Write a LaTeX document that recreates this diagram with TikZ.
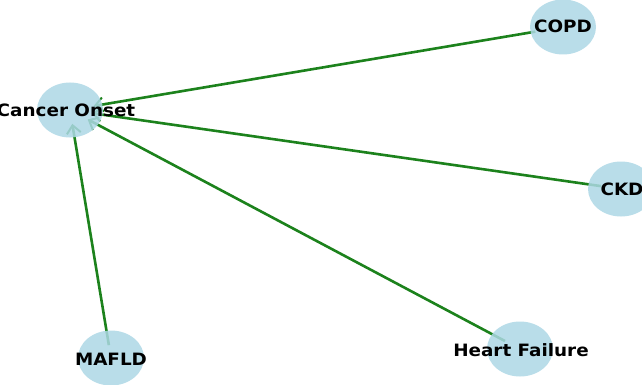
\documentclass[tikz,border=0pt]{standalone}
\usepackage{fontspec}
\setmainfont{DejaVu Sans}
\usetikzlibrary{calc,arrows.meta,shapes.geometric}
\definecolor{nodeblue}{RGB}{173,216,230}
\definecolor{edgegreen}{RGB}{28,130,28}
\pgfdeclarelayer{bg}
\pgfsetlayers{bg,main}
\newcommand{\lbltxt}[1]{\scalebox{1.08}[1]{\fontsize{17}{19}\selectfont\bfseries #1}}
\tikzset{
  nd/.style={ellipse, fill=nodeblue, fill opacity=0.85, text opacity=1,
    minimum width=66pt, minimum height=55pt, inner sep=0pt, text=black},
  edg/.style={draw=edgegreen, line width=2.6pt,
    -{Straight Barb[length=8pt,width=14pt,line width=2pt]}}
}
\begin{document}
\begin{tikzpicture}[x=1pt,y=-1pt]
\useasboundingbox (0,0) rectangle (642,385);
\clip (0,0) rectangle (642,385);
\node[nd] (canc) at (70,110) {};
\node[nd] (copd) at (563,27) {};
\node[nd] (ckd) at (621,189) {};
\node[nd] (mafld) at (111,358) {};
\node[nd] (hf) at (520,349) {};
\node (tcanc) at (66,110) {\lbltxt{Cancer Onset}};
\node (tcopd) at (563,26) {\lbltxt{COPD}};
\node (tckd) at (622,189) {\lbltxt{CKD}};
\node (tmafld) at (111,359) {\lbltxt{MAFLD}};
\node (thf) at (521,350) {\lbltxt{Heart Failure}};
\begin{pgfonlayer}{bg}
\fill[white] (0,0) rectangle (642,385);
\draw[edg] ($(copd.center)!28pt!(canc.center)$) -- ($(canc.center)!24pt!(copd.center)$);
\draw[edg] ($(ckd.center)!20pt!(canc.center)$) -- ($(canc.center)!22pt!(ckd.center)$);
\draw[edg] ($(hf.center)!17pt!(canc.center)$) -- ($(canc.center)!20pt!(hf.center)$);
\draw[edg] ($(mafld.center)!13pt!(canc.center)$) -- ($(canc.center)!14pt!(mafld.center)$);
\end{pgfonlayer}
\end{tikzpicture}
\end{document}
